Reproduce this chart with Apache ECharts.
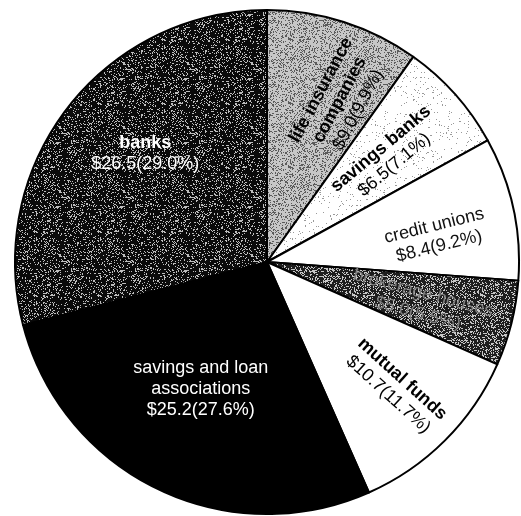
<!DOCTYPE html>
<html>
<head>
<meta charset="utf-8">
<script src="https://cdn.jsdelivr.net/npm/echarts@6/dist/echarts.min.js"></script>
<style>
  html, body { margin: 0; padding: 0; background: #fff; }
  #chart { width: 521px; height: 516px; }
</style>
</head>
<body>
<div id="chart"></div>
<script>
// data (billions of dollars)
const categories = [
  'life insurance\ncompanies',
  'savings banks',
  'credit unions',
  'brokerage houses',
  'mutual funds',
  'savings and loan\nassociations',
  'banks'
]
const amounts = [9.0, 6.5, 8.4, 5.0, 10.7, 25.2, 26.5]

// styling per slice
const labelRotate = [62, 40, 14, -15, -42, 0, 0]
const labelNudge = [[12, 18], [-8, 2], [3, 11], [-9, 3], [11, -2], [7, -24], [11, -6]]
const textColors = ['#000', '#000', '#111', '#808080', '#000', '#fff', '#fff']
const nameBold = [true, true, false, false, true, false, true]

// deterministic speckle texture (hash of pixel position)
const makeTexture = (base, speck, density) => {
  const c = document.createElement('canvas')
  c.width = 64
  c.height = 64
  const ctx = c.getContext('2d')
  ctx.fillStyle = base
  ctx.fillRect(0, 0, 64, 64)
  ctx.fillStyle = speck
  for (let y = 0; y < 64; y++) {
    for (let x = 0; x < 64; x++) {
      let h = Math.sin(x * 12.9898 + y * 78.233) * 43758.5453
      h = h - Math.floor(h)
      if (h < density) ctx.fillRect(x, y, 1, 1)
    }
  }
  return { image: c, repeat: 'repeat' }
}

const fills = [
  makeTexture('#c6c6c6', '#5a5a5a', 0.28),
  makeTexture('#ffffff', '#9a9a9a', 0.04),
  '#ffffff',
  makeTexture('#1e1e1e', '#c8c8c8', 0.3),
  '#ffffff',
  '#000000',
  makeTexture('#0a0a0a', '#bdbdbd', 0.2)
]

const chart = echarts.init(document.getElementById('chart'))

const center = [267, 262]

const option = {
  backgroundColor: '#fff',
  animation: false,
  series: [
    {
      type: 'pie',
      center: center,
      radius: [0, 252],
      startAngle: 90,
      clockwise: true,
      silent: true,
      label: { show: false },
      labelLine: { show: false },
      itemStyle: { borderColor: '#000', borderWidth: 2 },
      data: categories.map((name, i) => ({
        name: name,
        value: amounts[i],
        itemStyle: { color: fills[i] }
      }))
    },
    {
      // transparent copy carrying the labels
      type: 'pie',
      center: center,
      radius: [78, 252],
      startAngle: 90,
      clockwise: true,
      silent: true,
      percentPrecision: 1,
      itemStyle: { color: 'rgba(0,0,0,0)', borderWidth: 0 },
      labelLine: { show: false },
      label: {
        show: true,
        position: 'inside',
        fontFamily: 'Liberation Sans, Arial, sans-serif',
        lineHeight: 21,
        formatter: (p) =>
          '{n|' + p.name.split('\n').join('}\n{n|') + '}\n{v|$' +
          p.value.toFixed(1) + '(' + p.percent.toFixed(1) + '%)}'
      },
      labelLayout: (params) => {
        const n = labelNudge[params.dataIndex]
        return { dx: n[0], dy: n[1] }
      },
      data: categories.map((name, i) => ({
        name: name,
        value: amounts[i],
        label: {
          rotate: labelRotate[i],
          rich: {
            n: {
              fontSize: 18,
              lineHeight: 21,
              color: textColors[i],
              fontWeight: nameBold[i] ? 'bold' : 'normal',
              fontFamily: 'Liberation Sans, Arial, sans-serif'
            },
            v: {
              fontSize: 18,
              lineHeight: 21,
              color: textColors[i],
              fontFamily: 'Liberation Sans, Arial, sans-serif'
            }
          }
        }
      }))
    }
  ]
}

chart.setOption(option)
</script>
</body>
</html>
